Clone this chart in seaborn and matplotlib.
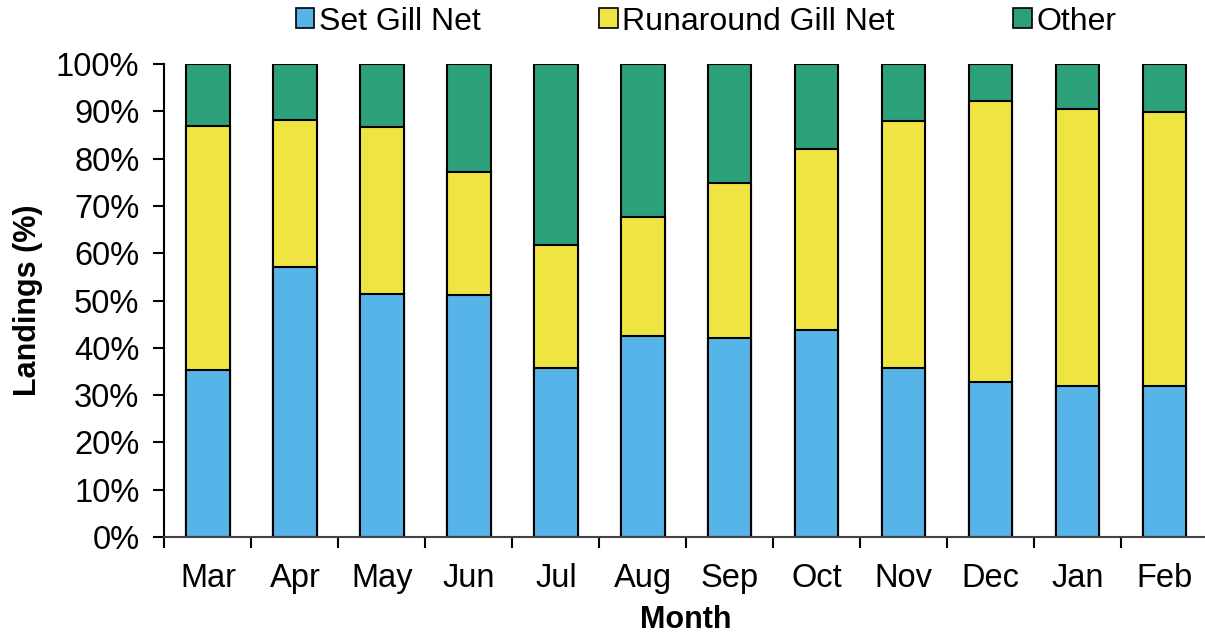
import numpy as np
import pandas as pd
import matplotlib
matplotlib.use("Agg")
import matplotlib.pyplot as plt
import seaborn as sns
from matplotlib.patches import Patch

# ------------------- Data ------------------- #
months = ["Mar", "Apr", "May", "Jun", "Jul", "Aug", "Sep", "Oct", "Nov", "Dec", "Jan", "Feb"]
set_gill = [35.3, 57.1, 51.4, 51.2, 35.7, 42.6, 42.1, 43.8, 35.7, 32.8, 31.9, 31.9]
runaround = [51.7, 31.1, 35.3, 26.0, 26.0, 25.1, 32.7, 38.2, 52.2, 59.4, 58.6, 58.0]
other = [100 - s - r for s, r in zip(set_gill, runaround)]

series_names = ["Set Gill Net", "Runaround Gill Net", "Other"]
colors = ["#56B4E9", "#F0E442", "#2BA07B"]

df = pd.DataFrame({"Month": months, "set": set_gill, "run": runaround, "other": other})
df["cum_run"] = df["set"] + df["run"]
df["cum_all"] = df["cum_run"] + df["other"]

# ------------------- Plot ------------------- #
sns.set_style("white")
plt.rcParams["font.family"] = ["Liberation Sans", "DejaVu Sans"]
plt.rcParams["text.color"] = "black"
plt.rcParams["axes.labelcolor"] = "black"
plt.rcParams["xtick.color"] = "black"
plt.rcParams["ytick.color"] = "black"

fig = plt.figure(figsize=(12.05, 6.34), dpi=100)
ax = fig.add_axes([0.1365, 0.153, 0.866, 0.746])

# stacked bars: draw cumulative totals back to front
for col, c in zip(["cum_all", "cum_run", "set"], colors[::-1]):
    sns.barplot(data=df, x="Month", y=col, color=c, width=0.5,
                edgecolor="black", linewidth=1.5, saturation=1, ax=ax)

ax.set_ylim(0, 100)
ax.set_xlim(-0.5, len(months) - 0.5)
ax.set_yticks(np.arange(0, 101, 10))
ax.set_yticklabels([f"{v}%" for v in range(0, 101, 10)])

# ticks between categories on x
ax.set_xticks(np.arange(-0.5, len(months), 1), minor=True)
ax.tick_params(axis="x", which="major", bottom=False, length=0, labelsize=23.5, pad=19)
ax.tick_params(axis="x", which="minor", bottom=True, length=8, width=1.5, direction="out", color="black")
ax.tick_params(axis="y", left=True, length=8, width=1.5, direction="out", labelsize=23.5, color="black", pad=10)

ax.set_xlabel("Month", fontsize=22, fontweight="bold", labelpad=8)
ax.set_ylabel("Landings (%)", fontsize=22, fontweight="bold", labelpad=9)

for s in ["top", "right"]:
    ax.spines[s].set_visible(False)
ax.spines["left"].set_linewidth(1.5)
ax.spines["left"].set_color("black")
ax.spines["bottom"].set_linewidth(1.5)
ax.spines["bottom"].set_color("#444444")

handles = [Patch(facecolor=c, edgecolor="black", linewidth=1.2, label=n)
           for c, n in zip(colors, series_names)]
fig.legend(handles=handles, loc="upper center", bbox_to_anchor=(0.586, 1.035), ncol=3,
           frameon=False, fontsize=23, handlelength=0.58, handleheight=0.58,
           handletextpad=0.15, columnspacing=3.7)

fig.savefig("out.png", dpi=100)
